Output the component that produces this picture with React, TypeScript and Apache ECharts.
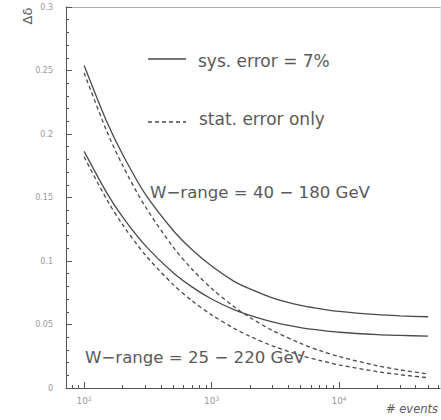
import React, { useEffect, useRef } from "react";
import * as echarts from "echarts";

// number of events (x) — log axis
const xEvents = [100, 150, 200, 300, 500, 700, 1000, 1500, 2000, 3000, 5000, 7000, 10000, 20000, 30000, 50000];
// W-range = 40 - 180 GeV
const sys40to180 = [0.254, 0.21, 0.184, 0.153, 0.124, 0.109, 0.096, 0.084, 0.078, 0.071, 0.065, 0.0625, 0.0603, 0.0577, 0.0568, 0.0561];
const stat40to180 = [0.248, 0.2025, 0.1754, 0.1432, 0.1109, 0.0937, 0.0784, 0.064, 0.0555, 0.0453, 0.0351, 0.0296, 0.0248, 0.0175, 0.0143, 0.0111];
// W-range = 25 - 220 GeV
const sys25to220 = [0.1863, 0.1539, 0.1348, 0.1125, 0.0907, 0.0796, 0.0701, 0.0617, 0.0571, 0.052, 0.0475, 0.0456, 0.0439, 0.042, 0.0414, 0.0408];
const stat25to220 = [0.182, 0.1486, 0.1287, 0.1051, 0.0814, 0.0688, 0.0576, 0.047, 0.0407, 0.0332, 0.0257, 0.0218, 0.0182, 0.0129, 0.0105, 0.0081];

const xMajorTicks = [100, 1000, 10000];
const xMinorTicks = [80, 90, 200, 300, 400, 500, 600, 700, 800, 900, 2000, 3000, 4000, 5000, 6000, 7000, 8000, 9000, 20000, 30000, 40000, 50000, 60000];

const X_MIN = 72;
const X_MAX = 62000;

const AXIS = "#555";
const CURVE = "#4a4a4a";
const TEXT = "#5a5a5a";
const FONT = "DejaVu Sans";

function pairs(ys: number[]) {
  return xEvents.map((x, i) => [x, ys[i]]);
}

export default function App() {
  const ref = useRef<HTMLDivElement>(null);
  useEffect(() => {
    if (!ref.current) return;
    const chart = echarts.init(ref.current, null, { renderer: "svg" });
    const line = (name: string, ys: number[], dashed: boolean) => ({
      name,
      type: "line",
      data: pairs(ys),
      showSymbol: false,
      symbol: "none",
      smooth: 0.3,
      xAxisIndex: 0,
      yAxisIndex: 0,
      lineStyle: { color: CURVE, width: 1.3, type: dashed ? [4, 3] : "solid" },
    });
    chart.setOption({
      animation: false,
      grid: { left: 66, top: 7, right: 1, bottom: 32, containLabel: false },
      xAxis: [
        {
          type: "log",
          logBase: 10,
          min: X_MIN,
          max: X_MAX,
          position: "bottom",
          axisLine: { show: true, lineStyle: { color: AXIS, width: 1 } },
          axisTick: { show: true, inside: true, length: 6, customValues: xMajorTicks, lineStyle: { color: AXIS } },
          axisLabel: {
            show: true,
            customValues: xMajorTicks,
            margin: 7,
            formatter: (v: number) => `{a|10}{b|${Math.round(Math.log10(v))}}`,
            rich: {
              a: { fontSize: 9, color: "#999", fontFamily: FONT },
              b: { fontSize: 6, color: "#999", fontFamily: FONT, padding: [0, 0, 6, 0] },
            },
          },
          splitLine: { show: false },
          minorTick: { show: false },
        },
        {
          type: "log",
          logBase: 10,
          min: X_MIN,
          max: X_MAX,
          position: "bottom",
          axisLine: { show: false },
          axisTick: { show: true, inside: true, length: 3, customValues: xMinorTicks, lineStyle: { color: AXIS } },
          axisLabel: { show: false },
          splitLine: { show: false },
        },
        {
          type: "log",
          logBase: 10,
          min: X_MIN,
          max: X_MAX,
          position: "top",
          axisLine: { show: true, lineStyle: { color: "#aaa", width: 1 } },
          axisTick: { show: false },
          axisLabel: { show: false },
          splitLine: { show: false },
        },
      ],
      yAxis: [
        {
          type: "value",
          min: 0,
          max: 0.3,
          interval: 0.05,
          position: "left",
          axisLine: { show: true, lineStyle: { color: AXIS, width: 1 } },
          axisTick: { show: true, inside: true, length: 6, lineStyle: { color: AXIS } },
          minorTick: { show: true, splitNumber: 5, length: 3, lineStyle: { color: AXIS } },
          axisLabel: { color: "#999", fontSize: 8, fontFamily: FONT, margin: 13 },
          splitLine: { show: false },
        },
        {
          type: "value",
          min: 0,
          max: 0.3,
          interval: 0.05,
          position: "right",
          axisLine: { show: true, lineStyle: { color: "#eee", width: 1 } },
          axisTick: { show: false },
          axisLabel: { show: false },
          splitLine: { show: false },
        },
      ],
      series: [
        line("sys. error = 7% (40-180)", sys40to180, false),
        line("stat. error only (40-180)", stat40to180, true),
        line("sys. error = 7% (25-220)", sys25to220, false),
        line("stat. error only (25-220)", stat25to220, true),
      ],
      graphic: [
        { type: "line", shape: { x1: 148, y1: 59, x2: 186, y2: 59 }, style: { stroke: CURVE, lineWidth: 1.3 } },
        { type: "text", x: 198, y: 61, style: { text: "sys. error = 7%", fontSize: 17, fontFamily: FONT, fill: TEXT, verticalAlign: "middle" } },
        { type: "line", shape: { x1: 148, y1: 122, x2: 186, y2: 122 }, style: { stroke: CURVE, lineWidth: 1.3, lineDash: [4, 3] } },
        { type: "text", x: 199, y: 119, style: { text: "stat. error only", fontSize: 17, fontFamily: FONT, fill: TEXT, verticalAlign: "middle" } },
        { type: "text", x: 150, y: 192, style: { text: "W\u2212range = 40 \u2212 180 GeV", fontSize: 16.6, fontFamily: FONT, fill: TEXT, verticalAlign: "middle" } },
        { type: "text", x: 85, y: 357, style: { text: "W\u2212range = 25 \u2212 220 GeV", fontSize: 16.6, fontFamily: FONT, fill: TEXT, verticalAlign: "middle" } },
        { type: "text", x: 27, y: 16, rotation: Math.PI / 2, style: { text: "\u0394\u03b4", fontSize: 13, fontFamily: FONT, fill: TEXT, align: "center", verticalAlign: "middle" } },
        { type: "text", x: 386, y: 409, style: { text: "# events", fontSize: 11.5, fontStyle: "italic", fontFamily: FONT, fill: TEXT, verticalAlign: "middle" } },
      ],
    });
    return () => chart.dispose();
  }, []);
  return <div ref={ref} style={{ position: "absolute", left: 0, top: 0, width: 441, height: 420 }} />;
}
